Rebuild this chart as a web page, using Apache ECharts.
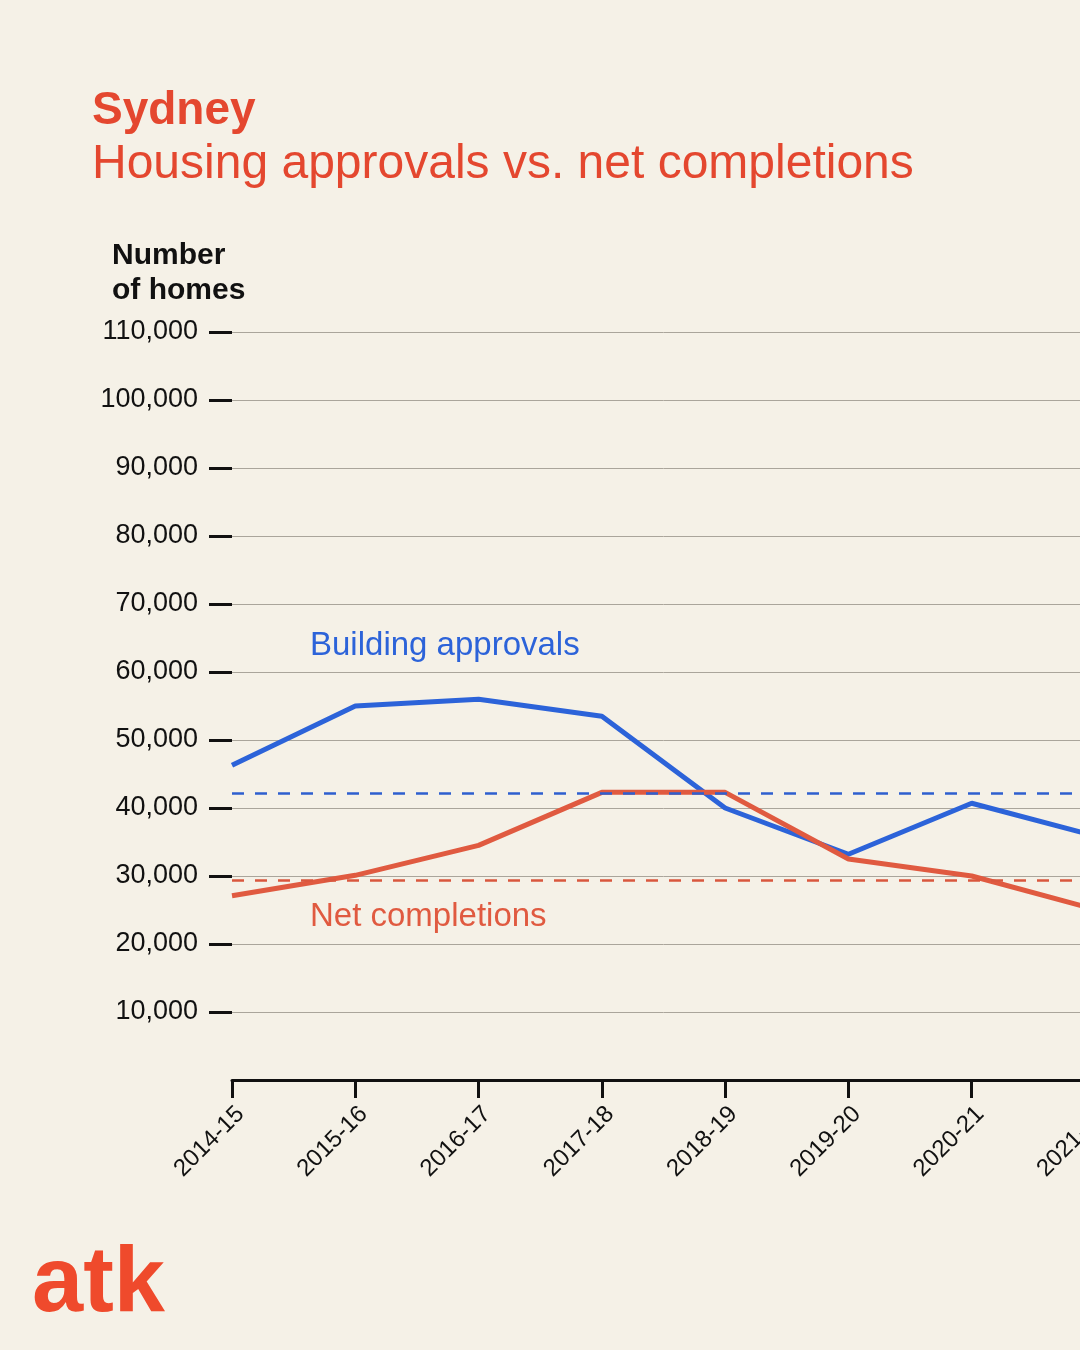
<!DOCTYPE html>
<html lang="en">
<head>
    <meta charset="UTF-8">
    <title>Sydney housing approvals vs. net completions</title>
    <script src="https://cdn.jsdelivr.net/npm/echarts@6/dist/echarts.min.js"></script>
    <style>
        html, body { margin: 0; padding: 0; background: #f5f1e7; overflow: hidden; }
        /* the chart runs past the right edge of the picture, like the original */
        #main { width: 1200px; height: 1350px; }
    </style>
</head>
<body>
    <div id="main"></div>
    <script>
        // data
        var categories = ['2014-15', '2015-16', '2016-17', '2017-18', '2018-19', '2019-20', '2020-21', '2021-22'];
        var approvals = [46300, 55000, 56000, 53500, 40000, 33200, 40700, 35900];
        var completions = [27100, 30100, 34500, 42300, 42300, 32500, 30000, 25100];
        var approvalsAvg = 42200;
        var completionsAvg = 29400;
        var yTicks = [10000, 20000, 30000, 40000, 50000, 60000, 70000, 80000, 90000, 100000, 110000];

        var font = '"Liberation Sans", Arial, sans-serif';
        var red = '#e4472f';
        var lineRed = '#e05a40';
        var blue = '#2c63d9';

        var myChart = echarts.init(document.getElementById('main'));

        var option = {
            backgroundColor: '#f5f1e7',
            animation: false,
            textStyle: { fontFamily: font },
            grid: { left: 232, right: 105, top: 332, bottom: 270 },
            xAxis: {
                type: 'category',
                data: categories,
                boundaryGap: false,
                axisLine: { lineStyle: { color: '#111', width: 3 } },
                axisTick: { length: 18, lineStyle: { color: '#111', width: 3 } },
                axisLabel: {
                    rotate: 45, margin: 22, verticalAlign: 'top',
                    color: '#111', fontSize: 24, fontFamily: font
                },
                splitLine: { show: false }
            },
            yAxis: {
                type: 'value',
                min: 0,
                max: 110000,
                interval: 10000,
                axisLine: { show: false },
                axisTick: {
                    show: true, length: 23, customValues: yTicks,
                    lineStyle: { color: '#111', width: 3 }
                },
                axisLabel: {
                    customValues: yTicks, margin: 34, color: '#111', fontSize: 27, fontFamily: font,
                    formatter: function (v) { return v.toLocaleString('en-US'); }
                },
                splitLine: { lineStyle: { color: '#aaa59b', width: 1 } }
            },
            series: [{
                name: 'Building approvals',
                type: 'line',
                data: approvals,
                symbol: 'none',
                lineStyle: { color: blue, width: 5 },
                z: 2
            }, {
                name: 'Net completions',
                type: 'line',
                data: completions,
                symbol: 'none',
                lineStyle: { color: lineRed, width: 5 },
                z: 3
            }, {
                // averages
                type: 'line',
                data: [],
                z: 4,
                markLine: {
                    silent: true,
                    symbol: 'none',
                    label: { show: false },
                    data: [
                        { yAxis: approvalsAvg, lineStyle: { color: '#2e5fcf', width: 2.5, type: [12, 11] } },
                        { yAxis: completionsAvg, lineStyle: { color: '#d9573e', width: 2.5, type: [12, 11] } }
                    ]
                }
            }],
            graphic: [
                { type: 'text', style: { x: 92, y: 111, text: 'Sydney', font: 'bold 46px ' + font, fill: red, verticalAlign: 'middle' } },
                { type: 'text', style: { x: 92, y: 165, text: 'Housing approvals vs. net completions', font: '48px ' + font, fill: red, verticalAlign: 'middle' } },
                { type: 'text', style: { x: 112, y: 256, text: 'Number', font: 'bold 30px ' + font, fill: '#111', verticalAlign: 'middle' } },
                { type: 'text', style: { x: 112, y: 291, text: 'of homes', font: 'bold 30px ' + font, fill: '#111', verticalAlign: 'middle' } },
                { type: 'text', style: { x: 310, y: 646, text: 'Building approvals', font: '33px ' + font, fill: blue, verticalAlign: 'middle' } },
                { type: 'text', style: { x: 310, y: 917, text: 'Net completions', font: '33px ' + font, fill: lineRed, verticalAlign: 'middle' } },
                { type: 'text', style: { x: 32, y: 1286, text: 'atk', font: '900 92px ' + font, fill: '#ef4a2c', verticalAlign: 'middle' } }
            ]
        };

        myChart.setOption(option);
    </script>
</body>
</html>
